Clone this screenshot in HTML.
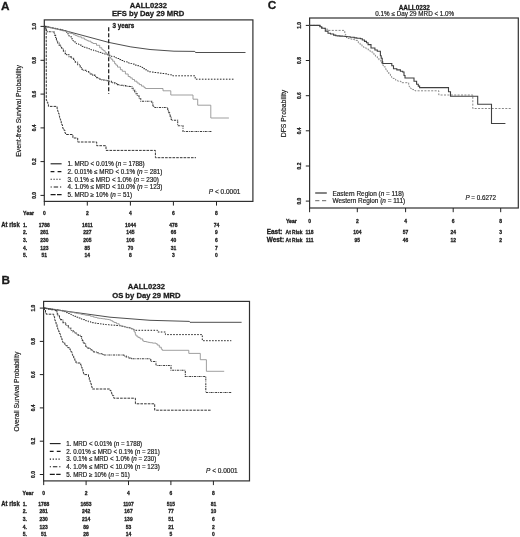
<!DOCTYPE html>
<html><head><meta charset="utf-8"><title>AALL0232 survival by Day 29 MRD</title>
<style>
html,body{margin:0;padding:0;background:#fff;}
body{width:520px;height:537px;overflow:hidden;font-family:"Liberation Sans",sans-serif;}
svg{display:block;font-family:"Liberation Sans",sans-serif;}
</style></head><body>
<svg width="520" height="537" viewBox="0 0 520 537">
<rect width="520" height="537" fill="#fff"/>
<text x="1.1" y="9.7" font-size="11.8" font-weight="bold" text-anchor="start" fill="#1a1a1a" stroke="#1a1a1a" stroke-width="0.28">A</text>
<text x="148.3" y="7.6" font-size="7.6" font-weight="bold" text-anchor="middle" fill="#1a1a1a" stroke="#1a1a1a" stroke-width="0.28">AALL0232</text>
<text x="148.1" y="16.4" font-size="7.65" font-weight="bold" text-anchor="middle" fill="#1a1a1a" stroke="#1a1a1a" stroke-width="0.28">EFS by Day 29 MRD</text>
<rect x="44.3" y="19.9" width="208.6" height="181.5" fill="none" stroke="#303030" stroke-width="1.2"/>
<line x1="40.5" y1="26.4" x2="44.3" y2="26.4" stroke="#222" stroke-width="1.0"/>
<text x="0" y="0" font-size="5.3" font-weight="bold" text-anchor="middle" fill="#1a1a1a" stroke="#1a1a1a" stroke-width="0.28" transform="translate(35.5 26.4) rotate(-90) scale(0.92 1)">1.0</text>
<line x1="40.5" y1="60.3" x2="44.3" y2="60.3" stroke="#222" stroke-width="1.0"/>
<text x="0" y="0" font-size="5.3" font-weight="bold" text-anchor="middle" fill="#1a1a1a" stroke="#1a1a1a" stroke-width="0.28" transform="translate(35.5 60.3) rotate(-90) scale(0.92 1)">0.8</text>
<line x1="40.5" y1="94.1" x2="44.3" y2="94.1" stroke="#222" stroke-width="1.0"/>
<text x="0" y="0" font-size="5.3" font-weight="bold" text-anchor="middle" fill="#1a1a1a" stroke="#1a1a1a" stroke-width="0.28" transform="translate(35.5 94.1) rotate(-90) scale(0.92 1)">0.6</text>
<line x1="40.5" y1="127.9" x2="44.3" y2="127.9" stroke="#222" stroke-width="1.0"/>
<text x="0" y="0" font-size="5.3" font-weight="bold" text-anchor="middle" fill="#1a1a1a" stroke="#1a1a1a" stroke-width="0.28" transform="translate(35.5 127.9) rotate(-90) scale(0.92 1)">0.4</text>
<line x1="40.5" y1="161.6" x2="44.3" y2="161.6" stroke="#222" stroke-width="1.0"/>
<text x="0" y="0" font-size="5.3" font-weight="bold" text-anchor="middle" fill="#1a1a1a" stroke="#1a1a1a" stroke-width="0.28" transform="translate(35.5 161.6) rotate(-90) scale(0.92 1)">0.2</text>
<line x1="40.5" y1="195.4" x2="44.3" y2="195.4" stroke="#222" stroke-width="1.0"/>
<text x="0" y="0" font-size="5.3" font-weight="bold" text-anchor="middle" fill="#1a1a1a" stroke="#1a1a1a" stroke-width="0.28" transform="translate(35.5 195.4) rotate(-90) scale(0.92 1)">0.0</text>
<line x1="44.3" y1="201.4" x2="44.3" y2="205.6" stroke="#222" stroke-width="1.0"/>
<text x="0" y="0" font-size="5.4" font-weight="bold" text-anchor="middle" fill="#1a1a1a" stroke="#1a1a1a" stroke-width="0.28" transform="translate(44.3 215.4) scale(0.92 1)">0</text>
<line x1="87.3" y1="201.4" x2="87.3" y2="205.6" stroke="#222" stroke-width="1.0"/>
<text x="0" y="0" font-size="5.4" font-weight="bold" text-anchor="middle" fill="#1a1a1a" stroke="#1a1a1a" stroke-width="0.28" transform="translate(87.3 215.4) scale(0.92 1)">2</text>
<line x1="130.4" y1="201.4" x2="130.4" y2="205.6" stroke="#222" stroke-width="1.0"/>
<text x="0" y="0" font-size="5.4" font-weight="bold" text-anchor="middle" fill="#1a1a1a" stroke="#1a1a1a" stroke-width="0.28" transform="translate(130.4 215.4) scale(0.92 1)">4</text>
<line x1="173.4" y1="201.4" x2="173.4" y2="205.6" stroke="#222" stroke-width="1.0"/>
<text x="0" y="0" font-size="5.4" font-weight="bold" text-anchor="middle" fill="#1a1a1a" stroke="#1a1a1a" stroke-width="0.28" transform="translate(173.4 215.4) scale(0.92 1)">6</text>
<line x1="216.5" y1="201.4" x2="216.5" y2="205.6" stroke="#222" stroke-width="1.0"/>
<text x="0" y="0" font-size="5.4" font-weight="bold" text-anchor="middle" fill="#1a1a1a" stroke="#1a1a1a" stroke-width="0.28" transform="translate(216.5 215.4) scale(0.92 1)">8</text>
<text x="23.1" y="215.4" font-size="5.2" font-weight="bold" text-anchor="start" fill="#1a1a1a" stroke="#1a1a1a" stroke-width="0.28">Year</text>
<text x="20.6" y="111.0" font-size="6.85" font-weight="normal" text-anchor="middle" fill="#1a1a1a" stroke="#1a1a1a" stroke-width="0.18" transform="rotate(-90 20.6 111.0)">Event-free Survival Probability</text>
<line x1="108.7" y1="27.2" x2="108.7" y2="94.0" stroke="#151515" stroke-width="1.2" stroke-dasharray="4 2"/>
<text x="112.5" y="27.9" font-size="6.3" font-weight="bold" text-anchor="start" fill="#1a1a1a" stroke="#1a1a1a" stroke-width="0.28">3 years</text>
<path d="M44.7 26.4L64.0 30.4L108.7 42.4L130.9 46.9L150.0 49.5L174.0 51.2L194.8 51.4L195.5 52.5L245.5 52.5" fill="none" stroke="#3a3a3a" stroke-width="0.9"/>
<path d="M44.7 26.4H46.4V26.8H48.7V27.3H50.6V27.7H53.0V28.2H55.5V28.7H56.8V29.0H58.0V29.3H60.9V29.9H62.6V30.3H64.0V30.6H66.8V33.8H68.6V35.9H71.1V38.8H73.0V41.0H75.0V43.3H76.5V44.0H79.0V45.1H81.9V46.4H84.2V47.3H87.0V48.6H89.5V49.4H90.9V49.8H93.6V50.6H96.0V51.4H98.0V52.0H99.3V52.4H102.2V53.3H104.3V54.0H107.0V54.8H108.7V55.3H111.3V56.4H114.4V57.6H116.4V58.5H119.2V59.6H121.3V60.5H124.2V61.7H127.2V62.6H128.6V63.1H130.0V63.5H131.7V64.1H134.8V65.1H136.9V65.7H139.0V66.4H140.8V67.4H143.0V68.7H145.0V69.8H146.9V70.9H148.4V71.8H150.8V72.1H153.8V72.5H156.3V72.8H159.4V73.2H162.3V73.5H164.6V73.8H167.1V74.4H168.7V74.8H171.6V75.5H172.7V75.8H195.2V79.2H234.0V79.2" fill="none" stroke="#2a2a2a" stroke-width="1.0" stroke-dasharray="1.6 1.4"/>
<path d="M44.7 26.4H47.7V27.1H50.0V27.7H52.7V28.4H54.3V28.8H57.2V29.5H59.5V30.1H61.3V30.5H62.6V30.9H66.0V31.7H69.2V33.0H70.6V33.5H73.4V34.7H75.4V35.5H76.9V36.1H78.6V36.8H81.3V38.0H84.3V39.3H85.6V39.9H87.1V40.6H88.4V41.2H91.0V42.6H92.9V43.5H96.5V45.3H99.7V47.8H101.9V49.6H103.3V50.7H105.1V52.5H106.4V53.9H108.7V56.3H109.7V57.6H111.0V59.2H112.7V61.2H114.6V63.6H115.9V65.1H117.5V67.1H120.4V69.7H122.3V71.3H125.4V74.0H128.2V76.5H130.2V77.9H132.3V79.5H134.5V81.2H137.0V83.0H139.2V84.6H141.5V86.1H144.0V87.6H145.4V88.5H163.0V90.8H170.8V95.0H193.0V99.2H197.7V105.2H210.8V118.0H228.9V118.0" fill="none" stroke="#8e8e8e" stroke-width="0.85"/>
<path d="M44.7 26.4H45.5V28.6H46.3V30.7H46.7V31.7H53.4V31.7H54.0V33.4H54.6V35.2H55.6V38.3H56.4V40.6H56.8V41.8H57.7V43.0H59.1V45.1H60.8V47.4H61.7V48.7H63.4V51.1H65.2V53.6H66.5V54.7H69.0V56.6H71.1V58.3H73.6V60.3H75.3V62.2H77.7V64.8H80.2V67.5H82.0V69.5H83.3V70.2H85.9V71.5H88.7V72.9H90.4V73.9H92.5V75.1H94.9V76.5H96.7V77.6H98.7V78.7H100.0V79.5H101.9V79.9H104.3V80.3H106.1V80.7H108.7V81.2H111.4V82.3H112.7V82.7H115.0V83.6H117.5V84.6H119.3V84.9H121.0V85.2H123.8V85.6H125.5V85.9H127.0V86.2H129.1V86.5H131.0V86.8H132.0V88.2H133.3V90.0H134.7V91.9H136.0V93.8H137.3V95.9H139.2V98.8H140.8V101.2H150.8V101.2H151.7V103.1H152.9V105.6H153.8V107.4H167.0V107.4H167.7V109.5H168.3V111.2H168.8V112.6H169.6V114.9H170.2V116.4H171.1V119.2H171.5V120.3H177.7V125.8H183.0V131.5H211.7V131.5" fill="none" stroke="#3a3a3a" stroke-width="1.05" stroke-dasharray="2.1 0.85 0.85 0.85"/>
<path d="M44.7 26.4H46.2V28.4L46.3 100.5H46.9V102.1H47.8V104.6H48.4V106.4H56.4V106.4H57.1V108.9H57.6V110.6H58.0V111.9H58.5V113.6H59.2V116.1H59.6V117.6H60.1V119.3H60.6V121.2H61.2V123.0H61.7V124.8H62.5V127.6H63.1V129.0H63.6V130.0H64.8V132.8H65.6V134.5H72.9V138.0H77.7V142.0H96.7V145.7H106.0V150.4H155.4V157.7H196.0V157.7" fill="none" stroke="#333" stroke-width="1.0" stroke-dasharray="2.6 1.1"/>
<line x1="50.6" y1="163.8" x2="61.6" y2="163.8" stroke="#1a1a1a" stroke-width="1.1"/>
<text x="67.5" y="166.0" font-size="6.3" font-weight="normal" text-anchor="start" fill="#1a1a1a" stroke="#1a1a1a" stroke-width="0.18">1. MRD &lt; 0.01% (<tspan font-style="italic">n</tspan> = 1788)</text>
<line x1="50.6" y1="171.6" x2="61.6" y2="171.6" stroke="#1a1a1a" stroke-width="1.1" stroke-dasharray="3.8 3.2"/>
<text x="67.5" y="173.8" font-size="6.3" font-weight="normal" text-anchor="start" fill="#1a1a1a" stroke="#1a1a1a" stroke-width="0.18">2. 0.01% ≤ MRD &lt; 0.1% (<tspan font-style="italic">n</tspan> = 281)</text>
<line x1="50.6" y1="179.3" x2="61.6" y2="179.3" stroke="#1a1a1a" stroke-width="1.1" stroke-dasharray="1.2 1.7"/>
<text x="67.5" y="181.5" font-size="6.3" font-weight="normal" text-anchor="start" fill="#1a1a1a" stroke="#1a1a1a" stroke-width="0.18">3. 0.1% ≤ MRD &lt; 1.0% (<tspan font-style="italic">n</tspan> = 230)</text>
<line x1="50.6" y1="187.0" x2="61.6" y2="187.0" stroke="#1a1a1a" stroke-width="1.1" stroke-dasharray="1.2 1.9 4.4 1.9"/>
<text x="67.5" y="189.2" font-size="6.3" font-weight="normal" text-anchor="start" fill="#1a1a1a" stroke="#1a1a1a" stroke-width="0.18">4. 1.0% ≤ MRD &lt; 10.0% (<tspan font-style="italic">n</tspan> = 123)</text>
<line x1="50.6" y1="194.6" x2="61.6" y2="194.6" stroke="#1a1a1a" stroke-width="1.1" stroke-dasharray="5 1.4"/>
<text x="67.5" y="196.8" font-size="6.3" font-weight="normal" text-anchor="start" fill="#1a1a1a" stroke="#1a1a1a" stroke-width="0.18">5. MRD ≥ 10% (<tspan font-style="italic">n</tspan> = 51)</text>
<text x="208.8" y="194.0" font-size="6.5" font-weight="normal" text-anchor="start" fill="#1a1a1a" stroke="#1a1a1a" stroke-width="0.18"><tspan font-style="italic">P</tspan> &lt; 0.0001</text>
<text x="1.3" y="227.1" font-size="6.6" font-weight="bold" text-anchor="start" fill="#1a1a1a" stroke="#1a1a1a" stroke-width="0.28" textLength="18.4" lengthAdjust="spacingAndGlyphs">At risk</text>
<text x="0" y="0" font-size="5.4" font-weight="bold" text-anchor="start" fill="#1a1a1a" stroke="#1a1a1a" stroke-width="0.28" transform="translate(23.1 226.9) scale(0.92 1)">1.</text>
<text x="0" y="0" font-size="5.4" font-weight="bold" text-anchor="middle" fill="#1a1a1a" stroke="#1a1a1a" stroke-width="0.28" transform="translate(44.3 226.9) scale(0.92 1)">1788</text>
<text x="0" y="0" font-size="5.4" font-weight="bold" text-anchor="middle" fill="#1a1a1a" stroke="#1a1a1a" stroke-width="0.28" transform="translate(87.3 226.9) scale(0.92 1)">1611</text>
<text x="0" y="0" font-size="5.4" font-weight="bold" text-anchor="middle" fill="#1a1a1a" stroke="#1a1a1a" stroke-width="0.28" transform="translate(130.4 226.9) scale(0.92 1)">1044</text>
<text x="0" y="0" font-size="5.4" font-weight="bold" text-anchor="middle" fill="#1a1a1a" stroke="#1a1a1a" stroke-width="0.28" transform="translate(173.4 226.9) scale(0.92 1)">478</text>
<text x="0" y="0" font-size="5.4" font-weight="bold" text-anchor="middle" fill="#1a1a1a" stroke="#1a1a1a" stroke-width="0.28" transform="translate(216.5 226.9) scale(0.92 1)">74</text>
<text x="0" y="0" font-size="5.4" font-weight="bold" text-anchor="start" fill="#1a1a1a" stroke="#1a1a1a" stroke-width="0.28" transform="translate(23.1 234.2) scale(0.92 1)">2.</text>
<text x="0" y="0" font-size="5.4" font-weight="bold" text-anchor="middle" fill="#1a1a1a" stroke="#1a1a1a" stroke-width="0.28" transform="translate(44.3 234.2) scale(0.92 1)">281</text>
<text x="0" y="0" font-size="5.4" font-weight="bold" text-anchor="middle" fill="#1a1a1a" stroke="#1a1a1a" stroke-width="0.28" transform="translate(87.3 234.2) scale(0.92 1)">227</text>
<text x="0" y="0" font-size="5.4" font-weight="bold" text-anchor="middle" fill="#1a1a1a" stroke="#1a1a1a" stroke-width="0.28" transform="translate(130.4 234.2) scale(0.92 1)">145</text>
<text x="0" y="0" font-size="5.4" font-weight="bold" text-anchor="middle" fill="#1a1a1a" stroke="#1a1a1a" stroke-width="0.28" transform="translate(173.4 234.2) scale(0.92 1)">66</text>
<text x="0" y="0" font-size="5.4" font-weight="bold" text-anchor="middle" fill="#1a1a1a" stroke="#1a1a1a" stroke-width="0.28" transform="translate(216.5 234.2) scale(0.92 1)">9</text>
<text x="0" y="0" font-size="5.4" font-weight="bold" text-anchor="start" fill="#1a1a1a" stroke="#1a1a1a" stroke-width="0.28" transform="translate(23.1 242.4) scale(0.92 1)">3.</text>
<text x="0" y="0" font-size="5.4" font-weight="bold" text-anchor="middle" fill="#1a1a1a" stroke="#1a1a1a" stroke-width="0.28" transform="translate(44.3 242.4) scale(0.92 1)">230</text>
<text x="0" y="0" font-size="5.4" font-weight="bold" text-anchor="middle" fill="#1a1a1a" stroke="#1a1a1a" stroke-width="0.28" transform="translate(87.3 242.4) scale(0.92 1)">205</text>
<text x="0" y="0" font-size="5.4" font-weight="bold" text-anchor="middle" fill="#1a1a1a" stroke="#1a1a1a" stroke-width="0.28" transform="translate(130.4 242.4) scale(0.92 1)">106</text>
<text x="0" y="0" font-size="5.4" font-weight="bold" text-anchor="middle" fill="#1a1a1a" stroke="#1a1a1a" stroke-width="0.28" transform="translate(173.4 242.4) scale(0.92 1)">40</text>
<text x="0" y="0" font-size="5.4" font-weight="bold" text-anchor="middle" fill="#1a1a1a" stroke="#1a1a1a" stroke-width="0.28" transform="translate(216.5 242.4) scale(0.92 1)">6</text>
<text x="0" y="0" font-size="5.4" font-weight="bold" text-anchor="start" fill="#1a1a1a" stroke="#1a1a1a" stroke-width="0.28" transform="translate(23.1 249.6) scale(0.92 1)">4.</text>
<text x="0" y="0" font-size="5.4" font-weight="bold" text-anchor="middle" fill="#1a1a1a" stroke="#1a1a1a" stroke-width="0.28" transform="translate(44.3 249.6) scale(0.92 1)">123</text>
<text x="0" y="0" font-size="5.4" font-weight="bold" text-anchor="middle" fill="#1a1a1a" stroke="#1a1a1a" stroke-width="0.28" transform="translate(87.3 249.6) scale(0.92 1)">85</text>
<text x="0" y="0" font-size="5.4" font-weight="bold" text-anchor="middle" fill="#1a1a1a" stroke="#1a1a1a" stroke-width="0.28" transform="translate(130.4 249.6) scale(0.92 1)">70</text>
<text x="0" y="0" font-size="5.4" font-weight="bold" text-anchor="middle" fill="#1a1a1a" stroke="#1a1a1a" stroke-width="0.28" transform="translate(173.4 249.6) scale(0.92 1)">31</text>
<text x="0" y="0" font-size="5.4" font-weight="bold" text-anchor="middle" fill="#1a1a1a" stroke="#1a1a1a" stroke-width="0.28" transform="translate(216.5 249.6) scale(0.92 1)">7</text>
<text x="0" y="0" font-size="5.4" font-weight="bold" text-anchor="start" fill="#1a1a1a" stroke="#1a1a1a" stroke-width="0.28" transform="translate(23.1 257.2) scale(0.92 1)">5.</text>
<text x="0" y="0" font-size="5.4" font-weight="bold" text-anchor="middle" fill="#1a1a1a" stroke="#1a1a1a" stroke-width="0.28" transform="translate(44.3 257.2) scale(0.92 1)">51</text>
<text x="0" y="0" font-size="5.4" font-weight="bold" text-anchor="middle" fill="#1a1a1a" stroke="#1a1a1a" stroke-width="0.28" transform="translate(87.3 257.2) scale(0.92 1)">14</text>
<text x="0" y="0" font-size="5.4" font-weight="bold" text-anchor="middle" fill="#1a1a1a" stroke="#1a1a1a" stroke-width="0.28" transform="translate(130.4 257.2) scale(0.92 1)">8</text>
<text x="0" y="0" font-size="5.4" font-weight="bold" text-anchor="middle" fill="#1a1a1a" stroke="#1a1a1a" stroke-width="0.28" transform="translate(173.4 257.2) scale(0.92 1)">3</text>
<text x="0" y="0" font-size="5.4" font-weight="bold" text-anchor="middle" fill="#1a1a1a" stroke="#1a1a1a" stroke-width="0.28" transform="translate(216.5 257.2) scale(0.92 1)">0</text>
<text x="1.4" y="284.3" font-size="11.8" font-weight="bold" text-anchor="start" fill="#1a1a1a" stroke="#1a1a1a" stroke-width="0.28">B</text>
<text x="146.3" y="289.2" font-size="7.6" font-weight="bold" text-anchor="middle" fill="#1a1a1a" stroke="#1a1a1a" stroke-width="0.28">AALL0232</text>
<text x="146.4" y="298.0" font-size="7.65" font-weight="bold" text-anchor="middle" fill="#1a1a1a" stroke="#1a1a1a" stroke-width="0.28">OS by Day 29 MRD</text>
<rect x="43.6" y="301.4" width="205.9" height="179.5" fill="none" stroke="#303030" stroke-width="1.2"/>
<line x1="39.8" y1="308.1" x2="43.6" y2="308.1" stroke="#222" stroke-width="1.0"/>
<text x="0" y="0" font-size="5.3" font-weight="bold" text-anchor="middle" fill="#1a1a1a" stroke="#1a1a1a" stroke-width="0.28" transform="translate(35.0 308.1) rotate(-90) scale(0.92 1)">1.0</text>
<line x1="39.8" y1="341.4" x2="43.6" y2="341.4" stroke="#222" stroke-width="1.0"/>
<text x="0" y="0" font-size="5.3" font-weight="bold" text-anchor="middle" fill="#1a1a1a" stroke="#1a1a1a" stroke-width="0.28" transform="translate(35.0 341.4) rotate(-90) scale(0.92 1)">0.8</text>
<line x1="39.8" y1="374.6" x2="43.6" y2="374.6" stroke="#222" stroke-width="1.0"/>
<text x="0" y="0" font-size="5.3" font-weight="bold" text-anchor="middle" fill="#1a1a1a" stroke="#1a1a1a" stroke-width="0.28" transform="translate(35.0 374.6) rotate(-90) scale(0.92 1)">0.6</text>
<line x1="39.8" y1="407.9" x2="43.6" y2="407.9" stroke="#222" stroke-width="1.0"/>
<text x="0" y="0" font-size="5.3" font-weight="bold" text-anchor="middle" fill="#1a1a1a" stroke="#1a1a1a" stroke-width="0.28" transform="translate(35.0 407.9) rotate(-90) scale(0.92 1)">0.4</text>
<line x1="39.8" y1="441.2" x2="43.6" y2="441.2" stroke="#222" stroke-width="1.0"/>
<text x="0" y="0" font-size="5.3" font-weight="bold" text-anchor="middle" fill="#1a1a1a" stroke="#1a1a1a" stroke-width="0.28" transform="translate(35.0 441.2) rotate(-90) scale(0.92 1)">0.2</text>
<line x1="39.8" y1="474.5" x2="43.6" y2="474.5" stroke="#222" stroke-width="1.0"/>
<text x="0" y="0" font-size="5.3" font-weight="bold" text-anchor="middle" fill="#1a1a1a" stroke="#1a1a1a" stroke-width="0.28" transform="translate(35.0 474.5) rotate(-90) scale(0.92 1)">0.0</text>
<line x1="43.7" y1="480.9" x2="43.7" y2="485.1" stroke="#222" stroke-width="1.0"/>
<text x="0" y="0" font-size="5.4" font-weight="bold" text-anchor="middle" fill="#1a1a1a" stroke="#1a1a1a" stroke-width="0.28" transform="translate(43.7 494.7) scale(0.92 1)">0</text>
<line x1="86.1" y1="480.9" x2="86.1" y2="485.1" stroke="#222" stroke-width="1.0"/>
<text x="0" y="0" font-size="5.4" font-weight="bold" text-anchor="middle" fill="#1a1a1a" stroke="#1a1a1a" stroke-width="0.28" transform="translate(86.1 494.7) scale(0.92 1)">2</text>
<line x1="128.5" y1="480.9" x2="128.5" y2="485.1" stroke="#222" stroke-width="1.0"/>
<text x="0" y="0" font-size="5.4" font-weight="bold" text-anchor="middle" fill="#1a1a1a" stroke="#1a1a1a" stroke-width="0.28" transform="translate(128.5 494.7) scale(0.92 1)">4</text>
<line x1="170.9" y1="480.9" x2="170.9" y2="485.1" stroke="#222" stroke-width="1.0"/>
<text x="0" y="0" font-size="5.4" font-weight="bold" text-anchor="middle" fill="#1a1a1a" stroke="#1a1a1a" stroke-width="0.28" transform="translate(170.9 494.7) scale(0.92 1)">6</text>
<line x1="213.4" y1="480.9" x2="213.4" y2="485.1" stroke="#222" stroke-width="1.0"/>
<text x="0" y="0" font-size="5.4" font-weight="bold" text-anchor="middle" fill="#1a1a1a" stroke="#1a1a1a" stroke-width="0.28" transform="translate(213.4 494.7) scale(0.92 1)">8</text>
<text x="22.5" y="494.7" font-size="5.2" font-weight="bold" text-anchor="start" fill="#1a1a1a" stroke="#1a1a1a" stroke-width="0.28">Year</text>
<text x="19.5" y="391.6" font-size="6.68" font-weight="normal" text-anchor="middle" fill="#1a1a1a" stroke="#1a1a1a" stroke-width="0.18" transform="rotate(-90 19.5 391.6)">Overall Survival Probability</text>
<path d="M43.7 308.1L110.0 317.2L150.0 320.3L189.4 321.4L190.0 322.3L241.6 322.3" fill="none" stroke="#3a3a3a" stroke-width="0.9"/>
<path d="M43.7 308.1H46.9V308.5H48.9V308.8H52.0V309.3H55.1V309.7H56.7V309.9H60.0V310.4H62.9V311.6H65.4V312.6H67.6V313.5H69.4V314.3H71.3V315.0H73.0V315.7H74.3V316.3H76.7V317.2H78.5V318.0H81.3V319.1H82.6V319.6H85.6V320.7H88.2V321.7H90.8V322.7H93.8V323.1H96.8V323.5H99.1V323.8H100.4V323.9H103.1V324.3H104.6V324.5H106.4V324.7H108.9V324.9H111.2V325.1H113.2V325.2H116.3V325.5H118.7V325.7H120.0V325.8H121.7V326.3H124.6V327.0H126.8V327.6H130.0V328.5H131.9V329.2H133.5V329.9H134.6V330.3H157.7V332.0H165.4V334.6H202.3V340.7H231.3V340.7" fill="none" stroke="#2a2a2a" stroke-width="1.0" stroke-dasharray="1.6 1.4"/>
<path d="M43.7 308.1H46.5V308.5H48.1V308.8H50.9V309.2H53.9V309.7H56.7V310.1H59.6V310.6H60.8V310.8H63.2V311.1H66.2V311.6H67.5V311.8H70.0V312.2H71.7V312.5H74.0V312.9H76.0V313.3H78.2V313.7H80.9V314.3H82.1V314.5H83.4V314.7H84.9V315.0H86.0V315.2H87.3V315.5H90.5V316.3H93.4V317.1H94.8V317.4H97.0V318.0H98.8V318.3H100.7V318.5H102.6V318.8H105.1V319.2H107.4V319.5H109.2V319.8H110.8V320.7H112.6V321.7H114.1V322.5H116.4V323.8H119.2V325.4H121.2V325.9H122.5V326.3H124.1V326.7H126.0V327.3H128.4V327.9H131.2V328.7H133.0V329.2H134.2V332.0H135.3V334.4H136.0V336.0H137.9V337.4H140.1V338.9H142.7V340.8H143.8V341.5H146.4V342.0H148.5V342.4H150.2V342.7H152.5V343.1H156.0V343.8H157.3V345.1H159.3V347.2H161.3V349.2H162.3V350.3H188.8V353.4H200.3V359.7H206.4V371.3H224.2V371.3" fill="none" stroke="#8e8e8e" stroke-width="0.85"/>
<path d="M43.7 308.1H46.8V308.7H48.7V309.1H51.7V309.7H55.4V310.4H56.3V312.1H57.3V314.3H58.0V315.7H59.5V318.5H60.0V319.6H63.0V322.6H65.8V325.4H68.3V327.9H70.8V330.4H73.1V331.9H74.5V332.9H76.9V334.5H78.1V335.3H80.0V336.5H81.6V339.2H82.3V340.5H83.1V341.9H83.9V343.3H85.6V346.3H86.2V347.3H87.4V348.1H90.3V349.8H91.8V350.7H93.8V351.9H96.3V352.8H99.2V353.7H103.0V355.0H123.8V356.0H126.2V356.9H129.0V357.9H130.2V358.3H131.5V358.8H150.8V361.5H156.0V365.4H171.0V370.3H185.3V376.5H205.8V392.4H231.3V392.4" fill="none" stroke="#3a3a3a" stroke-width="1.05" stroke-dasharray="2.1 0.85 0.85 0.85"/>
<path d="M43.7 308.1H44.5V310.1H45.5V312.5H46.2V314.2H53.0V314.2H53.7V316.6H54.6V319.4H54.9V320.6H55.5V322.2H56.1V324.3H57.0V327.3H57.6V328.8H58.1V330.2H58.7V331.7H59.6V333.9H60.5V336.4H61.2V338.2H61.9V339.9H62.6V341.7H63.0V342.7H64.8V344.5H65.9V345.8H67.8V347.7H70.0V350.0H70.8V351.8H72.0V354.2H72.6V355.6H73.7V357.9H74.8V360.4H76.0V363.0H80.0V363.0H80.7V365.0H81.3V367.0H82.0V369.2H82.9V371.9H83.4V373.2H83.8V374.6H87.7V374.6H88.5V377.0H89.3V379.8H90.0V381.8H90.6V383.6H91.3V386.0H91.8V387.4H92.3V389.0H109.2V389.0H109.9V390.4H111.0V392.6H111.8V394.2H112.6V395.7H113.8V398.2H135.4V403.8H154.7V410.2H211.3V410.2" fill="none" stroke="#333" stroke-width="1.0" stroke-dasharray="2.6 1.1"/>
<line x1="49.8" y1="443.6" x2="60.6" y2="443.6" stroke="#1a1a1a" stroke-width="1.1"/>
<text x="0" y="0" font-size="6.3" font-weight="normal" text-anchor="start" fill="#1a1a1a" stroke="#1a1a1a" stroke-width="0.18" transform="translate(66.3 445.8) scale(0.985 1)">1. MRD &lt; 0.01% (<tspan font-style="italic">n</tspan> = 1788)</text>
<line x1="49.8" y1="451.4" x2="60.6" y2="451.4" stroke="#1a1a1a" stroke-width="1.1" stroke-dasharray="3.8 3.2"/>
<text x="0" y="0" font-size="6.3" font-weight="normal" text-anchor="start" fill="#1a1a1a" stroke="#1a1a1a" stroke-width="0.18" transform="translate(66.3 453.6) scale(0.985 1)">2. 0.01% ≤ MRD &lt; 0.1% (<tspan font-style="italic">n</tspan> = 281)</text>
<line x1="49.8" y1="459.1" x2="60.6" y2="459.1" stroke="#1a1a1a" stroke-width="1.1" stroke-dasharray="1.2 1.7"/>
<text x="0" y="0" font-size="6.3" font-weight="normal" text-anchor="start" fill="#1a1a1a" stroke="#1a1a1a" stroke-width="0.18" transform="translate(66.3 461.3) scale(0.985 1)">3. 0.1% ≤ MRD &lt; 1.0% (<tspan font-style="italic">n</tspan> = 230)</text>
<line x1="49.8" y1="466.8" x2="60.6" y2="466.8" stroke="#1a1a1a" stroke-width="1.1" stroke-dasharray="1.2 1.9 4.4 1.9"/>
<text x="0" y="0" font-size="6.3" font-weight="normal" text-anchor="start" fill="#1a1a1a" stroke="#1a1a1a" stroke-width="0.18" transform="translate(66.3 469.0) scale(0.985 1)">4. 1.0% ≤ MRD &lt; 10.0% (<tspan font-style="italic">n</tspan> = 123)</text>
<line x1="49.8" y1="474.4" x2="60.6" y2="474.4" stroke="#1a1a1a" stroke-width="1.1" stroke-dasharray="5 1.4"/>
<text x="0" y="0" font-size="6.3" font-weight="normal" text-anchor="start" fill="#1a1a1a" stroke="#1a1a1a" stroke-width="0.18" transform="translate(66.3 476.6) scale(0.985 1)">5. MRD ≥ 10% (<tspan font-style="italic">n</tspan> = 51)</text>
<text x="206.0" y="473.0" font-size="6.5" font-weight="normal" text-anchor="start" fill="#1a1a1a" stroke="#1a1a1a" stroke-width="0.18"><tspan font-style="italic">P</tspan> &lt; 0.0001</text>
<text x="1.3" y="506.0" font-size="6.6" font-weight="bold" text-anchor="start" fill="#1a1a1a" stroke="#1a1a1a" stroke-width="0.28" textLength="18.4" lengthAdjust="spacingAndGlyphs">At risk</text>
<text x="0" y="0" font-size="5.4" font-weight="bold" text-anchor="start" fill="#1a1a1a" stroke="#1a1a1a" stroke-width="0.28" transform="translate(22.7 505.8) scale(0.92 1)">1.</text>
<text x="0" y="0" font-size="5.4" font-weight="bold" text-anchor="middle" fill="#1a1a1a" stroke="#1a1a1a" stroke-width="0.28" transform="translate(43.7 505.8) scale(0.92 1)">1788</text>
<text x="0" y="0" font-size="5.4" font-weight="bold" text-anchor="middle" fill="#1a1a1a" stroke="#1a1a1a" stroke-width="0.28" transform="translate(86.1 505.8) scale(0.92 1)">1653</text>
<text x="0" y="0" font-size="5.4" font-weight="bold" text-anchor="middle" fill="#1a1a1a" stroke="#1a1a1a" stroke-width="0.28" transform="translate(128.5 505.8) scale(0.92 1)">1107</text>
<text x="0" y="0" font-size="5.4" font-weight="bold" text-anchor="middle" fill="#1a1a1a" stroke="#1a1a1a" stroke-width="0.28" transform="translate(170.9 505.8) scale(0.92 1)">515</text>
<text x="0" y="0" font-size="5.4" font-weight="bold" text-anchor="middle" fill="#1a1a1a" stroke="#1a1a1a" stroke-width="0.28" transform="translate(213.4 505.8) scale(0.92 1)">81</text>
<text x="0" y="0" font-size="5.4" font-weight="bold" text-anchor="start" fill="#1a1a1a" stroke="#1a1a1a" stroke-width="0.28" transform="translate(22.7 513.3) scale(0.92 1)">2.</text>
<text x="0" y="0" font-size="5.4" font-weight="bold" text-anchor="middle" fill="#1a1a1a" stroke="#1a1a1a" stroke-width="0.28" transform="translate(43.7 513.3) scale(0.92 1)">281</text>
<text x="0" y="0" font-size="5.4" font-weight="bold" text-anchor="middle" fill="#1a1a1a" stroke="#1a1a1a" stroke-width="0.28" transform="translate(86.1 513.3) scale(0.92 1)">242</text>
<text x="0" y="0" font-size="5.4" font-weight="bold" text-anchor="middle" fill="#1a1a1a" stroke="#1a1a1a" stroke-width="0.28" transform="translate(128.5 513.3) scale(0.92 1)">167</text>
<text x="0" y="0" font-size="5.4" font-weight="bold" text-anchor="middle" fill="#1a1a1a" stroke="#1a1a1a" stroke-width="0.28" transform="translate(170.9 513.3) scale(0.92 1)">77</text>
<text x="0" y="0" font-size="5.4" font-weight="bold" text-anchor="middle" fill="#1a1a1a" stroke="#1a1a1a" stroke-width="0.28" transform="translate(213.4 513.3) scale(0.92 1)">10</text>
<text x="0" y="0" font-size="5.4" font-weight="bold" text-anchor="start" fill="#1a1a1a" stroke="#1a1a1a" stroke-width="0.28" transform="translate(22.7 520.8) scale(0.92 1)">3.</text>
<text x="0" y="0" font-size="5.4" font-weight="bold" text-anchor="middle" fill="#1a1a1a" stroke="#1a1a1a" stroke-width="0.28" transform="translate(43.7 520.8) scale(0.92 1)">230</text>
<text x="0" y="0" font-size="5.4" font-weight="bold" text-anchor="middle" fill="#1a1a1a" stroke="#1a1a1a" stroke-width="0.28" transform="translate(86.1 520.8) scale(0.92 1)">214</text>
<text x="0" y="0" font-size="5.4" font-weight="bold" text-anchor="middle" fill="#1a1a1a" stroke="#1a1a1a" stroke-width="0.28" transform="translate(128.5 520.8) scale(0.92 1)">139</text>
<text x="0" y="0" font-size="5.4" font-weight="bold" text-anchor="middle" fill="#1a1a1a" stroke="#1a1a1a" stroke-width="0.28" transform="translate(170.9 520.8) scale(0.92 1)">51</text>
<text x="0" y="0" font-size="5.4" font-weight="bold" text-anchor="middle" fill="#1a1a1a" stroke="#1a1a1a" stroke-width="0.28" transform="translate(213.4 520.8) scale(0.92 1)">6</text>
<text x="0" y="0" font-size="5.4" font-weight="bold" text-anchor="start" fill="#1a1a1a" stroke="#1a1a1a" stroke-width="0.28" transform="translate(22.7 528.5) scale(0.92 1)">4.</text>
<text x="0" y="0" font-size="5.4" font-weight="bold" text-anchor="middle" fill="#1a1a1a" stroke="#1a1a1a" stroke-width="0.28" transform="translate(43.7 528.5) scale(0.92 1)">123</text>
<text x="0" y="0" font-size="5.4" font-weight="bold" text-anchor="middle" fill="#1a1a1a" stroke="#1a1a1a" stroke-width="0.28" transform="translate(86.1 528.5) scale(0.92 1)">89</text>
<text x="0" y="0" font-size="5.4" font-weight="bold" text-anchor="middle" fill="#1a1a1a" stroke="#1a1a1a" stroke-width="0.28" transform="translate(128.5 528.5) scale(0.92 1)">53</text>
<text x="0" y="0" font-size="5.4" font-weight="bold" text-anchor="middle" fill="#1a1a1a" stroke="#1a1a1a" stroke-width="0.28" transform="translate(170.9 528.5) scale(0.92 1)">21</text>
<text x="0" y="0" font-size="5.4" font-weight="bold" text-anchor="middle" fill="#1a1a1a" stroke="#1a1a1a" stroke-width="0.28" transform="translate(213.4 528.5) scale(0.92 1)">2</text>
<text x="0" y="0" font-size="5.4" font-weight="bold" text-anchor="start" fill="#1a1a1a" stroke="#1a1a1a" stroke-width="0.28" transform="translate(22.7 535.5) scale(0.92 1)">5.</text>
<text x="0" y="0" font-size="5.4" font-weight="bold" text-anchor="middle" fill="#1a1a1a" stroke="#1a1a1a" stroke-width="0.28" transform="translate(43.7 535.5) scale(0.92 1)">51</text>
<text x="0" y="0" font-size="5.4" font-weight="bold" text-anchor="middle" fill="#1a1a1a" stroke="#1a1a1a" stroke-width="0.28" transform="translate(86.1 535.5) scale(0.92 1)">28</text>
<text x="0" y="0" font-size="5.4" font-weight="bold" text-anchor="middle" fill="#1a1a1a" stroke="#1a1a1a" stroke-width="0.28" transform="translate(128.5 535.5) scale(0.92 1)">14</text>
<text x="0" y="0" font-size="5.4" font-weight="bold" text-anchor="middle" fill="#1a1a1a" stroke="#1a1a1a" stroke-width="0.28" transform="translate(170.9 535.5) scale(0.92 1)">5</text>
<text x="0" y="0" font-size="5.4" font-weight="bold" text-anchor="middle" fill="#1a1a1a" stroke="#1a1a1a" stroke-width="0.28" transform="translate(213.4 535.5) scale(0.92 1)">0</text>
<text x="267.8" y="9.4" font-size="11.8" font-weight="bold" text-anchor="start" fill="#1a1a1a" stroke="#1a1a1a" stroke-width="0.28">C</text>
<text x="414.3" y="10.1" font-size="6.4" font-weight="bold" text-anchor="middle" fill="#1a1a1a" stroke="#1a1a1a" stroke-width="0.28">AALL0232</text>
<text x="414.8" y="15.8" font-size="6.3" font-weight="normal" text-anchor="middle" fill="#1a1a1a" stroke="#1a1a1a" stroke-width="0.18">0.1% ≤ Day 29 MRD &lt; 1.0%</text>
<rect x="309.6" y="18.0" width="208.7" height="190.0" fill="none" stroke="#303030" stroke-width="1.2"/>
<line x1="305.8" y1="25.4" x2="309.6" y2="25.4" stroke="#222" stroke-width="1.0"/>
<text x="0" y="0" font-size="5.3" font-weight="bold" text-anchor="middle" fill="#1a1a1a" stroke="#1a1a1a" stroke-width="0.28" transform="translate(301.0 25.4) rotate(-90) scale(0.92 1)">1.0</text>
<line x1="305.8" y1="60.5" x2="309.6" y2="60.5" stroke="#222" stroke-width="1.0"/>
<text x="0" y="0" font-size="5.3" font-weight="bold" text-anchor="middle" fill="#1a1a1a" stroke="#1a1a1a" stroke-width="0.28" transform="translate(301.0 60.5) rotate(-90) scale(0.92 1)">0.8</text>
<line x1="305.8" y1="95.7" x2="309.6" y2="95.7" stroke="#222" stroke-width="1.0"/>
<text x="0" y="0" font-size="5.3" font-weight="bold" text-anchor="middle" fill="#1a1a1a" stroke="#1a1a1a" stroke-width="0.28" transform="translate(301.0 95.7) rotate(-90) scale(0.92 1)">0.6</text>
<line x1="305.8" y1="130.8" x2="309.6" y2="130.8" stroke="#222" stroke-width="1.0"/>
<text x="0" y="0" font-size="5.3" font-weight="bold" text-anchor="middle" fill="#1a1a1a" stroke="#1a1a1a" stroke-width="0.28" transform="translate(301.0 130.8) rotate(-90) scale(0.92 1)">0.4</text>
<line x1="305.8" y1="166.0" x2="309.6" y2="166.0" stroke="#222" stroke-width="1.0"/>
<text x="0" y="0" font-size="5.3" font-weight="bold" text-anchor="middle" fill="#1a1a1a" stroke="#1a1a1a" stroke-width="0.28" transform="translate(301.0 166.0) rotate(-90) scale(0.92 1)">0.2</text>
<line x1="305.8" y1="201.1" x2="309.6" y2="201.1" stroke="#222" stroke-width="1.0"/>
<text x="0" y="0" font-size="5.3" font-weight="bold" text-anchor="middle" fill="#1a1a1a" stroke="#1a1a1a" stroke-width="0.28" transform="translate(301.0 201.1) rotate(-90) scale(0.92 1)">0.0</text>
<line x1="309.6" y1="208.0" x2="309.6" y2="212.2" stroke="#222" stroke-width="1.0"/>
<text x="0" y="0" font-size="5.4" font-weight="bold" text-anchor="middle" fill="#1a1a1a" stroke="#1a1a1a" stroke-width="0.28" transform="translate(309.6 222.5) scale(0.92 1)">0</text>
<line x1="357.3" y1="208.0" x2="357.3" y2="212.2" stroke="#222" stroke-width="1.0"/>
<text x="0" y="0" font-size="5.4" font-weight="bold" text-anchor="middle" fill="#1a1a1a" stroke="#1a1a1a" stroke-width="0.28" transform="translate(357.3 222.5) scale(0.92 1)">2</text>
<line x1="405.6" y1="208.0" x2="405.6" y2="212.2" stroke="#222" stroke-width="1.0"/>
<text x="0" y="0" font-size="5.4" font-weight="bold" text-anchor="middle" fill="#1a1a1a" stroke="#1a1a1a" stroke-width="0.28" transform="translate(405.6 222.5) scale(0.92 1)">4</text>
<line x1="453.2" y1="208.0" x2="453.2" y2="212.2" stroke="#222" stroke-width="1.0"/>
<text x="0" y="0" font-size="5.4" font-weight="bold" text-anchor="middle" fill="#1a1a1a" stroke="#1a1a1a" stroke-width="0.28" transform="translate(453.2 222.5) scale(0.92 1)">6</text>
<line x1="500.7" y1="208.0" x2="500.7" y2="212.2" stroke="#222" stroke-width="1.0"/>
<text x="0" y="0" font-size="5.4" font-weight="bold" text-anchor="middle" fill="#1a1a1a" stroke="#1a1a1a" stroke-width="0.28" transform="translate(500.7 222.5) scale(0.92 1)">8</text>
<text x="285.9" y="222.5" font-size="5.2" font-weight="bold" text-anchor="start" fill="#1a1a1a" stroke="#1a1a1a" stroke-width="0.28">Year</text>
<text x="285.5" y="113.5" font-size="6.85" font-weight="normal" text-anchor="middle" fill="#1a1a1a" stroke="#1a1a1a" stroke-width="0.18" transform="rotate(-90 285.5 113.5)">DFS Probability</text>
<path d="M309.6 25.4H318.0V25.4H320.5V26.6H321.9V27.4H324.0V28.4H325.6V29.2H328.0V30.4H344.2V31.2H344.8V33.1H345.3V34.5H345.8V35.8H346.1V36.8H346.5V38.0H348.1V38.4H349.3V38.7H350.8V39.1H352.3V39.5H354.5V40.1H355.8V40.4H358.3V42.9H360.1V44.6H362.0V46.5H363.7V47.5H366.0V48.9H368.3V50.3H370.1V51.5H371.0V52.0H373.1V54.0H375.4V56.2H377.3V58.0H378.9V60.1H380.8V62.6H382.0V64.2H382.9V65.5H383.9V66.9H385.8V69.6H387.2V71.6H388.8V74.1H390.4V76.5H391.7V77.5H393.0V78.4H394.4V79.4H395.8V80.4H397.9V81.3H401.0V82.7H408.0V82.7H408.7V85.1H409.1V86.5H409.6V88.0H411.1V88.8H412.7V89.6H415.0V90.8H438.8V95.0H472.8V108.5H510.8V108.5" fill="none" stroke="#7a7a7a" stroke-width="0.9" stroke-dasharray="2 1.4"/>
<path d="M309.6 25.4H318.0V25.4H319.8V26.8H321.6V28.2H325.3V31.1H328.0V33.2H330.5V34.0H333.6V35.1H335.8V35.8H337.4V35.9H339.8V36.1H342.5V36.3H345.0V36.5H347.1V36.8H350.2V37.3H354.2V37.9H356.8V38.3H360.4V38.8H362.3V40.0H364.5V41.4H366.5V42.7H368.1V44.6H371.0V48.0H374.9V50.0H377.3V51.2H380.4V55.8H381.2V58.3H382.2V61.9H382.7V63.5H390.4V63.5H391.8V65.8H393.5V68.8H396.8V69.9H400.4V71.2H402.7V72.0H404.0V75.5H405.0V78.0H411.0V78.0H414.0V81.3H416.6V84.3H418.3V86.1H419.6V87.6H448.5V91.8H450.5V96.2H477.7V104.3H491.5V123.5H505.4V123.5" fill="none" stroke="#404040" stroke-width="1.1"/>
<line x1="315.2" y1="193.0" x2="326.8" y2="193.0" stroke="#333" stroke-width="1.2"/>
<line x1="315.2" y1="200.7" x2="326.8" y2="200.7" stroke="#555" stroke-width="0.9" stroke-dasharray="4.2 2.6"/>
<text x="332.5" y="195.7" font-size="6.43" font-weight="normal" text-anchor="start" fill="#1a1a1a" stroke="#1a1a1a" stroke-width="0.18">Eastern Region (<tspan font-style="italic">n</tspan> = 118)</text>
<text x="332.5" y="203.2" font-size="6.43" font-weight="normal" text-anchor="start" fill="#1a1a1a" stroke="#1a1a1a" stroke-width="0.18">Western Region (<tspan font-style="italic">n</tspan> = 111)</text>
<text x="465.4" y="199.6" font-size="6.3" font-weight="normal" text-anchor="start" fill="#1a1a1a" stroke="#1a1a1a" stroke-width="0.18"><tspan font-style="italic">P</tspan> = 0.6272</text>
<text x="266.8" y="234.0" font-size="6.4" font-weight="bold" text-anchor="start" fill="#1a1a1a" stroke="#1a1a1a" stroke-width="0.28">East:</text>
<text x="266.8" y="241.7" font-size="6.4" font-weight="bold" text-anchor="start" fill="#1a1a1a" stroke="#1a1a1a" stroke-width="0.28">West:</text>
<text x="285.6" y="233.6" font-size="4.9" font-weight="bold" text-anchor="start" fill="#1a1a1a" stroke="#1a1a1a" stroke-width="0.28">At Risk</text>
<text x="0" y="0" font-size="5.4" font-weight="bold" text-anchor="middle" fill="#1a1a1a" stroke="#1a1a1a" stroke-width="0.28" transform="translate(309.6 233.6) scale(0.92 1)">118</text>
<text x="0" y="0" font-size="5.4" font-weight="bold" text-anchor="middle" fill="#1a1a1a" stroke="#1a1a1a" stroke-width="0.28" transform="translate(357.3 233.6) scale(0.92 1)">104</text>
<text x="0" y="0" font-size="5.4" font-weight="bold" text-anchor="middle" fill="#1a1a1a" stroke="#1a1a1a" stroke-width="0.28" transform="translate(405.6 233.6) scale(0.92 1)">57</text>
<text x="0" y="0" font-size="5.4" font-weight="bold" text-anchor="middle" fill="#1a1a1a" stroke="#1a1a1a" stroke-width="0.28" transform="translate(453.2 233.6) scale(0.92 1)">24</text>
<text x="0" y="0" font-size="5.4" font-weight="bold" text-anchor="middle" fill="#1a1a1a" stroke="#1a1a1a" stroke-width="0.28" transform="translate(500.7 233.6) scale(0.92 1)">3</text>
<text x="285.6" y="241.6" font-size="4.9" font-weight="bold" text-anchor="start" fill="#1a1a1a" stroke="#1a1a1a" stroke-width="0.28">At Risk</text>
<text x="0" y="0" font-size="5.4" font-weight="bold" text-anchor="middle" fill="#1a1a1a" stroke="#1a1a1a" stroke-width="0.28" transform="translate(309.6 241.6) scale(0.92 1)">111</text>
<text x="0" y="0" font-size="5.4" font-weight="bold" text-anchor="middle" fill="#1a1a1a" stroke="#1a1a1a" stroke-width="0.28" transform="translate(357.3 241.6) scale(0.92 1)">95</text>
<text x="0" y="0" font-size="5.4" font-weight="bold" text-anchor="middle" fill="#1a1a1a" stroke="#1a1a1a" stroke-width="0.28" transform="translate(405.6 241.6) scale(0.92 1)">46</text>
<text x="0" y="0" font-size="5.4" font-weight="bold" text-anchor="middle" fill="#1a1a1a" stroke="#1a1a1a" stroke-width="0.28" transform="translate(453.2 241.6) scale(0.92 1)">12</text>
<text x="0" y="0" font-size="5.4" font-weight="bold" text-anchor="middle" fill="#1a1a1a" stroke="#1a1a1a" stroke-width="0.28" transform="translate(500.7 241.6) scale(0.92 1)">2</text>
</svg>
</body></html>
